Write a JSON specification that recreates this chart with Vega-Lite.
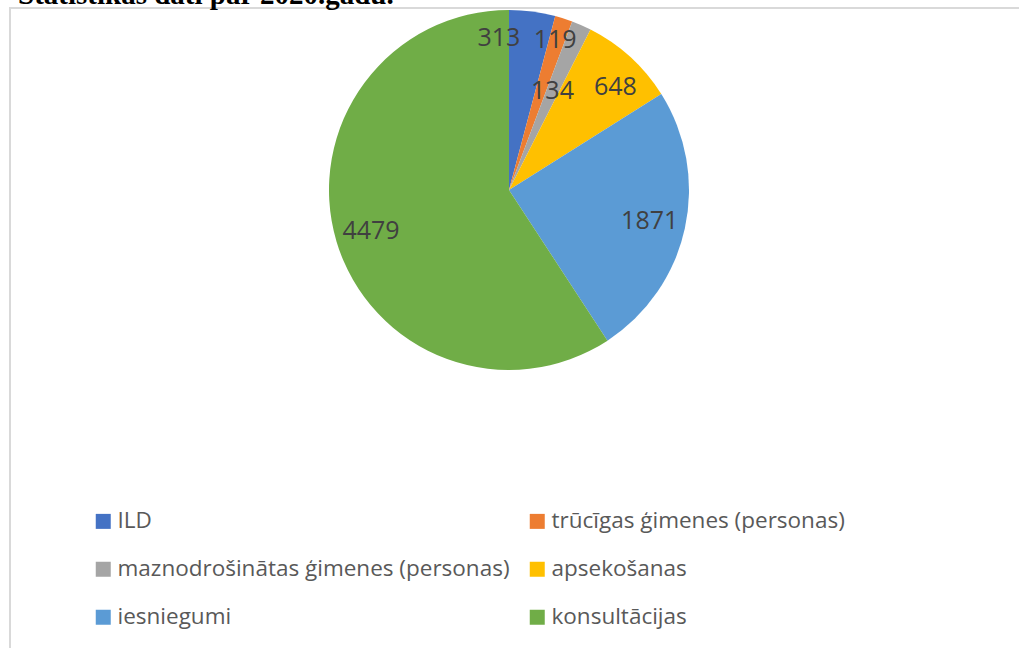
{
  "$schema": "https://vega.github.io/schema/vega-lite/v6.json",
  "width": 1009,
  "height": 640,
  "autosize": {"type": "none"},
  "padding": {"left": 10, "top": 8, "right": 0, "bottom": 0},
  "background": "#ffffff",
  "title": {
    "text": "Statistikas dati par 2020.gadu.",
    "anchor": "start",
    "frame": "group",
    "font": "Liberation Serif",
    "fontSize": 29,
    "fontWeight": "bold",
    "color": "#000000",
    "baseline": "alphabetic",
    "offset": 5,
    "dx": 8,
    "dy": 31
  },
  "config": {
    "view": {"stroke": null},
    "legend": {
      "labelFont": "Open Sans",
      "labelFontSize": 22.5,
      "labelColor": "#595959",
      "labelLimit": 0,
      "symbolType": "square",
      "symbolSize": 225,
      "symbolStrokeWidth": 0,
      "labelOffset": 3,
      "columnPadding": 16,
      "rowPadding": 25,
      "padding": 0
    }
  },
  "data": {
    "values": [
      {"category": "ILD", "value": 313, "order": 1},
      {"category": "trūcīgas ģimenes (personas)", "value": 119, "order": 2},
      {"category": "maznodrošinātas ģimenes (personas)", "value": 134, "order": 3},
      {"category": "apsekošanas", "value": 648, "order": 4},
      {"category": "iesniegumi", "value": 1871, "order": 5},
      {"category": "konsultācijas", "value": 4479, "order": 6}
    ]
  },
  "layer": [
    {
      "data": {"values": [{"frame": "border"}]},
      "mark": {"type": "rect", "fill": null, "stroke": "#D9D9D9", "strokeWidth": 2},
      "encoding": {
        "x": {"value": 0},
        "y": {"value": 0},
        "x2": {"value": {"expr": "width + 30"}},
        "y2": {"value": {"expr": "height + 30"}}
      }
    },
    {
      "mark": {"type": "arc", "outerRadius": 180, "x": 499, "y": 182, "strokeWidth": 0},
      "encoding": {
        "theta": {"field": "value", "type": "quantitative", "stack": true},
        "order": {"field": "order", "type": "quantitative"},
        "color": {
          "field": "category",
          "type": "nominal",
          "sort": ["ILD", "trūcīgas ģimenes (personas)", "maznodrošinātas ģimenes (personas)", "apsekošanas", "iesniegumi", "konsultācijas"],
          "scale": {
            "domain": ["ILD", "trūcīgas ģimenes (personas)", "maznodrošinātas ģimenes (personas)", "apsekošanas", "iesniegumi", "konsultācijas"],
            "range": ["#4472C4", "#ED7D31", "#A5A5A5", "#FFC000", "#5B9BD5", "#70AD47"]
          },
          "legend": {
            "title": null,
            "orient": "none",
            "legendX": 82,
            "legendY": 502,
            "columns": 2,
            "direction": "horizontal"
          }
        }
      }
    },
    {
      "mark": {"type": "text", "radius": 144, "x": 499, "y": 182, "font": "Open Sans", "fontSize": 25, "color": "#404040"},
      "encoding": {
        "theta": {"field": "value", "type": "quantitative", "stack": true},
        "order": {"field": "order", "type": "quantitative"},
        "text": {"condition": {"test": "datum.value >= 1000", "field": "value", "type": "quantitative"}, "value": ""}
      }
    },
    {
      "mark": {"type": "text", "radius": 140, "dx": 12, "x": 499, "y": 182, "font": "Open Sans", "fontSize": 25, "color": "#404040"},
      "encoding": {
        "theta": {"field": "value", "type": "quantitative", "stack": true},
        "order": {"field": "order", "type": "quantitative"},
        "text": {"condition": {"test": "datum.category === 'apsekošanas'", "field": "value", "type": "quantitative"}, "value": ""}
      }
    },
    {
      "mark": {"type": "text", "radius": 153, "dx": -30, "x": 499, "y": 182, "font": "Open Sans", "fontSize": 25, "color": "#404040"},
      "encoding": {
        "theta": {"field": "value", "type": "quantitative", "stack": true},
        "order": {"field": "order", "type": "quantitative"},
        "text": {"condition": {"test": "datum.category === 'ILD'", "field": "value", "type": "quantitative"}, "value": ""}
      }
    },
    {
      "mark": {"type": "text", "radius": 158, "dx": -2, "x": 499, "y": 182, "font": "Open Sans", "fontSize": 25, "color": "#404040"},
      "encoding": {
        "theta": {"field": "value", "type": "quantitative", "stack": true},
        "order": {"field": "order", "type": "quantitative"},
        "text": {"condition": {"test": "datum.category === 'trūcīgas ģimenes (personas)'", "field": "value", "type": "quantitative"}, "value": ""}
      }
    },
    {
      "mark": {"type": "text", "radius": 108, "dx": 0, "x": 499, "y": 182, "font": "Open Sans", "fontSize": 25, "color": "#404040"},
      "encoding": {
        "theta": {"field": "value", "type": "quantitative", "stack": true},
        "order": {"field": "order", "type": "quantitative"},
        "text": {"condition": {"test": "datum.category === 'maznodrošinātas ģimenes (personas)'", "field": "value", "type": "quantitative"}, "value": ""}
      }
    }
  ]
}
